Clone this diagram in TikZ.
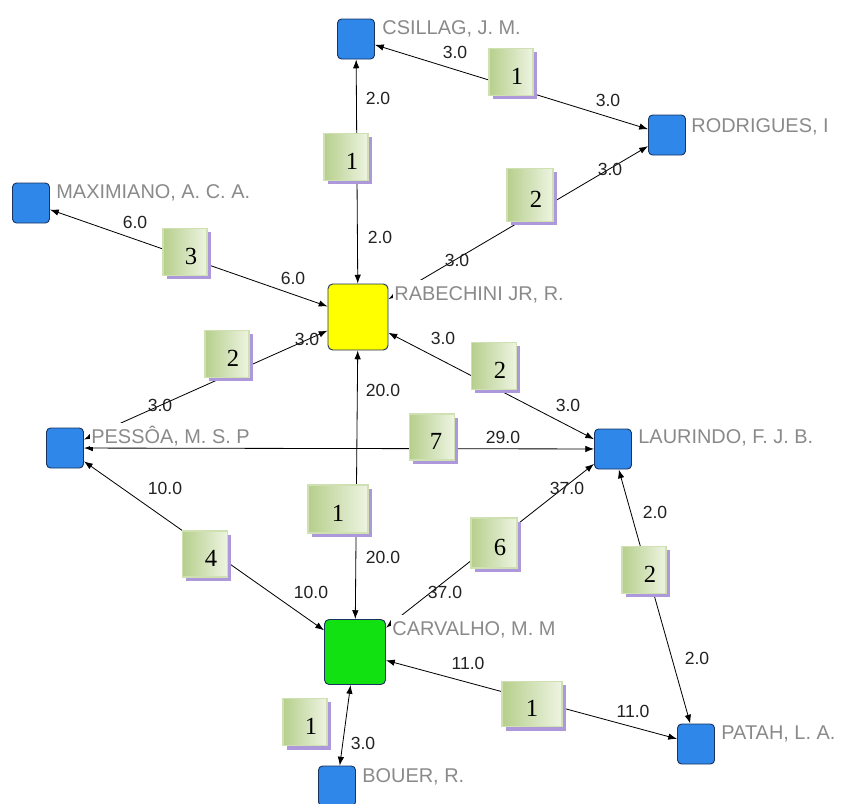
\documentclass[tikz,border=0pt]{standalone}
\usepackage{fontspec}
\setmainfont{Liberation Sans}
\newfontfamily\numfont{Liberation Serif}
\usetikzlibrary{arrows.meta,shadows}
\definecolor{pblue}{HTML}{2F87EA}
\definecolor{pline}{HTML}{1A3460}
\definecolor{pyellow}{HTML}{FFFF00}
\definecolor{pgreen}{HTML}{11E011}
\definecolor{namegray}{HTML}{8A8A8A}
\definecolor{wtext}{HTML}{222222}
\definecolor{numlight}{HTML}{EEF4E2}
\definecolor{numgreen}{HTML}{B6CF8C}
\definecolor{numedge}{HTML}{CFE0B2}
\definecolor{numshade}{HTML}{AC98DA}

\begin{document}
\begin{tikzpicture}[x=0.03cm,y=-0.03cm,>={Latex[length=7.5pt,width=5.5pt]},
 person/.style={draw=pline,line width=0.8pt,rounded corners=3.5pt,fill=pblue,inner sep=0pt,minimum width=1.11cm,minimum height=1.2cm},
 authname/.style={anchor=base west,fill=white,inner sep=1pt,text height=16pt,text depth=2pt,text=namegray,font=\fontsize{17pt}{20pt}\selectfont},
 wt/.style={text=wtext,inner sep=0pt,font=\fontsize{15pt}{18pt}\selectfont},
 numbox/.style={draw=numedge,line width=1.2pt,left color=numgreen,right color=numlight,inner sep=0pt,
  drop shadow={shadow xshift=3pt,shadow yshift=-3.4pt,fill=numshade,opacity=1}},
 numtxt/.style={font=\numfont\fontsize{21pt}{24pt}\selectfont,inner sep=0pt},
 link/.style={<->,line width=0.7pt}]
 \fill[white] (0,0) rectangle (851,803);
 \useasboundingbox (0,0) rectangle (851,803);
 \clip (0,0) rectangle (851,803);
 % authors
 \node[person] (csi) at (356,39) {};
 \node[person] (rod) at (667,135) {};
 \node[person] (max) at (31,203) {};
 \node[person,fill=pyellow,minimum width=1.8cm,minimum height=1.98cm,rounded corners=4pt] (rab) at (358,317) {};
 \node[person] (pes) at (65,448) {};
 \node[person] (lau) at (613,449) {};
 \node[person,fill=pgreen,minimum width=1.83cm,minimum height=1.95cm,rounded corners=4pt] (car) at (355,652) {};
 \node[person] (pat) at (696,744) {};
 \node[person] (bou) at (337,786) {};
 % co-authorship links
 \draw[link] (csi)--(rod); \draw[link] (rab)--(csi); \draw[link] (rab)--(rod);
 \draw[link] (max)--(rab); \draw[link] (pes)--(rab); \draw[link] (rab)--(lau);
 \draw[link] (pes)--(lau); \draw[link] (rab)--(car); \draw[link] (pes)--(car);
 \draw[link] (car)--(lau); \draw[link] (lau)--(pat); \draw[link] (car)--(pat);
 \draw[link] (car)--(bou);
 % names
 \node[authname] (csiname) at (381,34) {CSILLAG, J. M.};
 \node[authname] (rodname) at (690,132) {RODRIGUES, I};
 \node[authname] (maxname) at (55,198) {MAXIMIANO, A. C. A.};
 \node[authname] (rabname) at (393,300) {RABECHINI JR, R.};
 \node[authname] (pesname) at (90,443) {PESSÔA, M. S. P};
 \node[authname] (launame) at (637,443) {LAURINDO, F. J. B.};
 \node[authname] (carname) at (391,635) {CARVALHO, M. M};
 \node[authname] (bouname) at (361,782) {BOUER, R.};
 \node[authname] (patname) at (720,739) {PATAH, L. A.};
 % weights at both ends
 \foreach \x/\y/\t [count=\i] in {455/52/3.0,608/100/3.0,378/98/2.0,380/237/2.0,610/169/3.0,457/260/3.0,
  135/222/6.0,293/278/6.0,307/339/3.0,160/405/3.0,443/338/3.0,568/405/3.0,503/437/29.0,
  383/390/20.0,383/557/20.0,165/488/10.0,311/592/10.0,567/488/37.0,445/592/37.0,
  655/512/2.0,697/658/2.0,468/663/11.0,633/711/11.0,363/743/3.0}
  \node[wt] (w\i) at (\x,\y) {\t};
 % paper counts
 \foreach \x/\y/\n/\w/\h/\d [count=\i] in {511/72/1/1.32/1.41/6,346/157/1/1.32/1.41/6,530/195/2/1.38/1.59/6,
  185/252/3/1.32/1.41/6,227/354/2/1.32/1.41/6,494/366/2/1.35/1.41/6,432/437/7/1.35/1.38/4,
  338/509/1/1.8/1.44/0,494/543/6/1.38/1.5/6,205/554/4/1.35/1.38/6,644/570/2/1.32/1.41/6,
  532/704/1/1.8/1.35/0,305/722/1/1.32/1.41/6}{
  \node[numbox,minimum width=\w cm,minimum height=\h cm] (box\i) at (\x,\y) {};
  \node[numtxt] (num\i) at ([shift={(\d,4)}]box\i.center) {\n};}
\end{tikzpicture}
\end{document}
